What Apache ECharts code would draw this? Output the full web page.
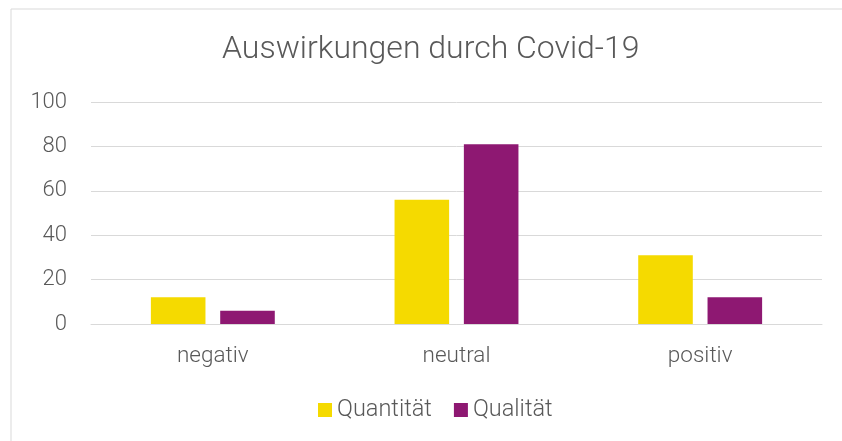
<!DOCTYPE html>
<html>
<head>
<meta charset="utf-8">
<script src="https://cdn.jsdelivr.net/npm/echarts@6/dist/echarts.min.js"></script>
<style>
  html, body { margin: 0; padding: 0; background: #fff; }
  #chart { width: 842px; height: 441px; }
</style>
</head>
<body>
<div id="chart"></div>
<script>
// Daten
const categories = ['negativ', 'neutral', 'positiv'];
const quantitaet = [12, 56, 31];
const qualitaet = [6, 81, 12];
const seriesNames = ['Quantität', 'Qualität'];

const chart = echarts.init(document.getElementById('chart'));

const textColor = '#595959';
const fontFamily = 'Roboto, Liberation Sans, Arial, sans-serif';

chart.setOption({
  animation: false,
  backgroundColor: '#fff',
  graphic: [
    {
      type: 'rect',
      shape: { x: 11, y: 9, width: 900, height: 500 },
      style: { fill: 'none', stroke: '#d9d9d9', lineWidth: 1 }
    }
  ],
  title: {
    text: 'Auswirkungen durch Covid-19',
    left: 222,
    top: 34,
    padding: 0,
    textStyle: {
      color: textColor,
      fontSize: 32,
      fontWeight: 300,
      fontFamily: fontFamily
    }
  },
  legend: {
    left: 318,
    top: 398,
    padding: 0,
    itemWidth: 14,
    itemHeight: 14,
    itemGap: 22,
    icon: 'rect',
    textStyle: { color: textColor, fontSize: 23.5, fontWeight: 300, fontFamily: fontFamily }
  },
  grid: {
    left: 91,
    right: 20,
    top: 102,
    bottom: 117
  },
  xAxis: {
    type: 'category',
    data: categories,
    axisLine: { lineStyle: { color: '#d9d9d9', width: 1 } },
    axisTick: { show: false },
    axisLabel: {
      color: textColor,
      fontSize: 22.5,
      fontWeight: 300,
      fontFamily: fontFamily,
      margin: 21
    }
  },
  yAxis: {
    type: 'value',
    min: 0,
    max: 100,
    interval: 20,
    axisLine: { show: false },
    axisTick: { show: false },
    splitLine: { lineStyle: { color: '#d9d9d9', width: 1 } },
    axisLabel: {
      color: textColor,
      fontSize: 22,
      fontWeight: 300,
      fontFamily: fontFamily,
      margin: 24
    }
  },
  series: [
    {
      name: seriesNames[0],
      type: 'bar',
      data: quantitaet,
      barWidth: '22.4%',
      barGap: '27%',
      itemStyle: { color: '#f5da00' }
    },
    {
      name: seriesNames[1],
      type: 'bar',
      data: qualitaet,
      barWidth: '22.4%',
      itemStyle: { color: '#8e1872' }
    }
  ]
});
</script>
</body>
</html>
